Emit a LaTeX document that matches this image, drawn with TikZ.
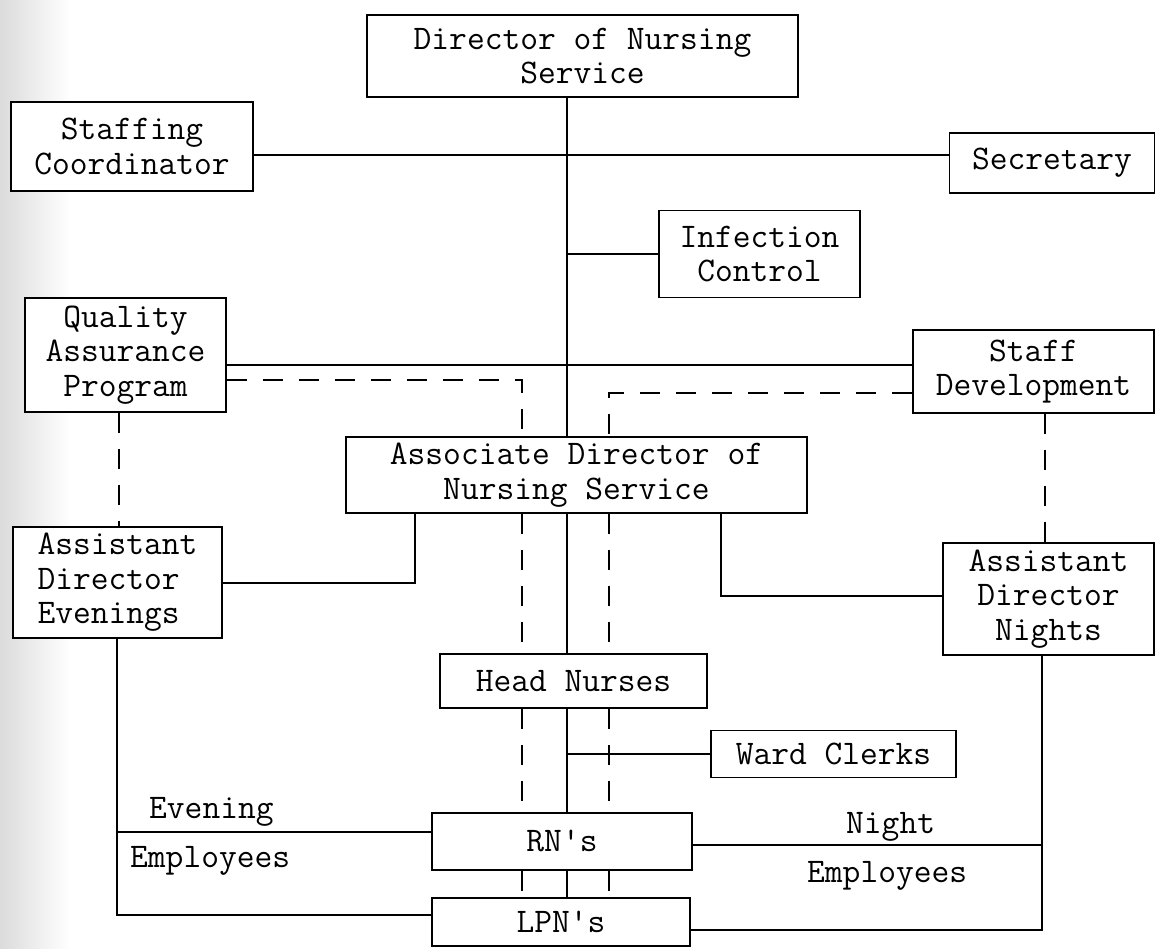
\documentclass[tikz,border=0pt]{standalone}
\usetikzlibrary{calc}
\newcommand{\tyfont}{\fontsize{34.5}{34.5}\selectfont\ttfamily}
\begin{document}
\begin{tikzpicture}[x=1pt,y=-1pt,
  box/.style={draw, line width=1.6pt, fill=white, inner sep=0pt, align=center, font=\tyfont},
  conn/.style={line width=1.6pt},
  dconn/.style={line width=1.6pt, dash pattern=on 20pt off 16pt},
  lbl/.style={inner sep=0pt, font=\tyfont, anchor=base west}]
\useasboundingbox (0,0) rectangle (1157,949);
\fill[white] (0,0) rectangle (1157,949);
\shade[left color=black!14, right color=white] (0,0) rectangle (70,949);

% boxes
\node[box, minimum width=431pt, minimum height=82pt] (dir) at (582.5,56) {Director of Nursing\\Service};
\node[box, minimum width=242pt, minimum height=89pt] (staff) at (132,146.5) {Staffing\\Coordinator};
\node[box, minimum width=205pt, minimum height=60pt] (sec) at (1052,163) {Secretary};
\node[box, minimum width=201pt, minimum height=87pt] (inf) at (759.5,254) {Infection\\Control};
\node[box, minimum width=201pt, minimum height=114pt] (qa) at (125.5,355) {Quality\\Assurance\\Program};
\node[box, minimum width=241pt, minimum height=83pt] (sd) at (1033.5,371.5) {Staff\\Development};
\node[box, minimum width=461pt, minimum height=76pt] (assoc) at (576.5,475) {Associate Director of\\Nursing Service};
\node[box, minimum width=209pt, minimum height=111pt, align=left] (ade) at (117.5,582.5) {Assistant\\Director\\Evenings};
\node[box, minimum width=211pt, minimum height=112pt] (adn) at (1048.5,599) {Assistant\\Director\\Nights};
\node[box, minimum width=267pt, minimum height=54pt] (hn) at (573.5,681) {Head Nurses};
\node[box, minimum width=245pt, minimum height=47pt] (wc) at (833.5,754) {Ward Clerks};
\node[box, minimum width=260pt, minimum height=57pt] (rn) at (562,841.5) {RN's};
\node[box, minimum width=258pt, minimum height=48pt] (lpn) at (561,922) {LPN's};

% labels
\node[lbl] (ev) at (149,818) {Evening};
\node[lbl] (eve) at (130,867) {Employees};
\node[lbl] (ni) at (846,833) {Night};
\node[lbl] (nie) at (807,882) {Employees};

% helper coordinates
\coordinate (xm) at (567,0);
\coordinate (xqd) at (522,0);
\coordinate (xsd) at (609,0);
\coordinate (xqa) at (119,0);
\coordinate (xsdv) at (1045,0);
\coordinate (xl) at (117,0);
\coordinate (xr) at (1042,0);
\coordinate (xae) at (415,0);
\coordinate (xan) at (721,0);
\coordinate (y155) at (0,155);
\coordinate (y365) at (0,365);
\coordinate (y380) at (0,380);
\coordinate (y393) at (0,393);
\coordinate (y583) at (0,583);
\coordinate (y596) at (0,596);
\coordinate (y832) at (0,832);
\coordinate (y845) at (0,845);
\coordinate (y915) at (0,915);
\coordinate (y930) at (0,930);

% solid connectors
\draw[conn] (dir.south -| xm) -- (assoc.north -| xm);
\draw[conn] (staff.east |- y155) -- (sec.west |- y155);
\draw[conn] (xm |- inf.west) -- (inf.west);
\draw[conn] (qa.east |- y365) -- (sd.west |- y365);
\draw[conn] (assoc.south -| xm) -- (hn.north -| xm);
\draw[conn] (hn.south -| xm) -- (rn.north -| xm);
\draw[conn] (rn.south -| xm) -- (lpn.north -| xm);
\draw[conn] (xm |- wc.west) -- (wc.west);
\draw[conn] (ade.east |- y583) -| (assoc.south -| xae);
\draw[conn] (assoc.south -| xan) |- (adn.west |- y596);
\draw[conn] (ade.south -| xl) |- (lpn.west |- y915);
\draw[conn] (xl |- y832) -- (rn.west |- y832);
\draw[conn] (adn.south -| xr) |- (lpn.east |- y930);
\draw[conn] (xr |- y845) -- (rn.east |- y845);

% dashed connectors
\draw[dconn] (qa.east |- y380) -| (assoc.north -| xqd);
\draw[dconn] (sd.west |- y393) -| (assoc.north -| xsd);
\draw[dconn] (assoc.south -| xqd) -- (hn.north -| xqd);
\draw[dconn] (hn.south -| xqd) -- (rn.north -| xqd);
\draw[dconn] (rn.south -| xqd) -- (lpn.north -| xqd);
\draw[dconn] (assoc.south -| xsd) -- (hn.north -| xsd);
\draw[dconn] (hn.south -| xsd) -- (rn.north -| xsd);
\draw[dconn] (rn.south -| xsd) -- (lpn.north -| xsd);
\draw[dconn] (qa.south -| xqa) -- (ade.north -| xqa);
\draw[dconn] (sd.south -| xsdv) -- (adn.north -| xsdv);
\end{tikzpicture}
\end{document}
